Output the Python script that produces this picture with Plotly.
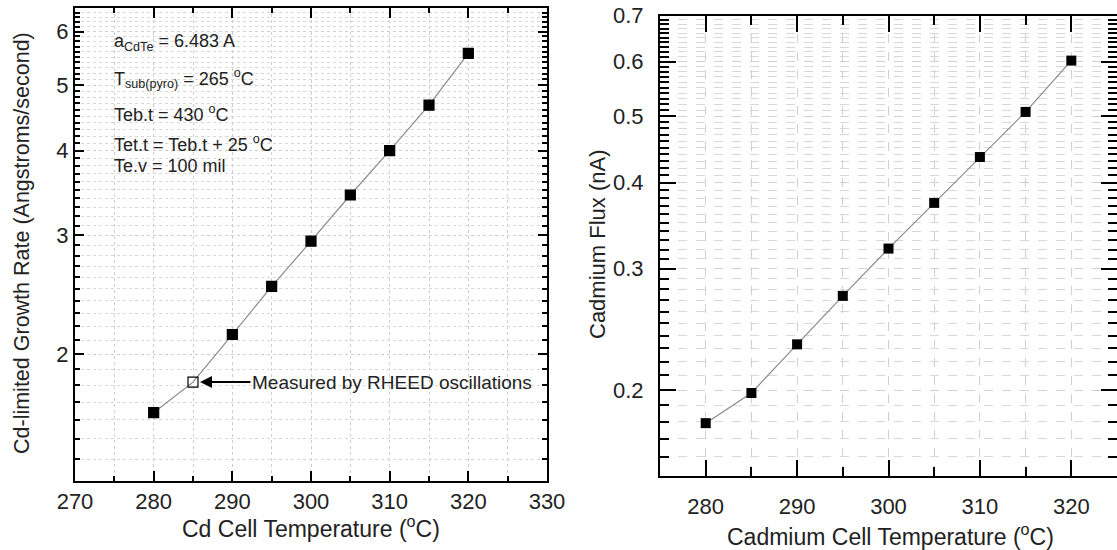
import plotly.graph_objects as go
import numpy as np

# ---- data ----
temp_left = [280, 285, 290, 295, 300, 305, 310, 315, 320]
rate_left = [1.64, 1.82, 2.14, 2.52, 2.94, 3.44, 4.00, 4.67, 5.57]
symbols_left = ["square", "square-open", "square", "square", "square", "square", "square", "square", "square"]

temp_right = [280, 285, 290, 295, 300, 305, 310, 315, 320]
flux_right = [0.179, 0.198, 0.233, 0.274, 0.321, 0.374, 0.436, 0.507, 0.602]

left_x_ticks = [270, 280, 290, 300, 310, 320, 330]
left_y_ticks = [2, 3, 4, 5, 6]
right_x_ticks = [280, 290, 300, 310, 320]
right_y_ticks = [0.2, 0.3, 0.4, 0.5, 0.6, 0.7]

info_lines = [
    "a<sub>CdTe</sub> = 6.483 A",
    "T<sub>sub(pyro)</sub> = 265 <sup>o</sup>C",
    "Teb.t = 430 <sup>o</sup>C",
    "Tet.t = Teb.t + 25 <sup>o</sup>C",
    "Te.v = 100 mil",
]

FONT = "Liberation Sans, Arial, sans-serif"
W, H = 1117, 550

left_minor_y = [round(v, 2) for v in np.arange(1.3, 6.51, 0.1) if all(abs(v - t) > 1e-6 for t in left_y_ticks)]
right_minor_y = [round(v, 3) for v in np.arange(0.15, 0.705, 0.01) if all(abs(v - t) > 1e-6 for t in right_y_ticks)]

fig = go.Figure()

fig.add_trace(go.Scatter(
    x=temp_left, y=rate_left, mode="lines+markers",
    line=dict(color="#8a8a8a", width=1.2),
    marker=dict(symbol=symbols_left, size=10, color="black", line=dict(width=1.2, color="black")),
    xaxis="x", yaxis="y", showlegend=False, cliponaxis=False,
))
fig.add_trace(go.Scatter(
    x=temp_right, y=flux_right, mode="lines+markers",
    line=dict(color="#8a8a8a", width=1.2),
    marker=dict(symbol="square", size=10, color="black"),
    xaxis="x2", yaxis="y2", showlegend=False, cliponaxis=False,
))

common_axis = dict(showline=True, linecolor="black", linewidth=2, mirror="ticks",
                   ticks="inside", tickcolor="black", zeroline=False,
                   tickfont=dict(family=FONT, size=22, color="#222"))

fig.update_layout(
    width=W, height=H,
    margin=dict(l=0, r=0, t=0, b=0, autoexpand=False),
    paper_bgcolor="white", plot_bgcolor="white",
    xaxis=dict(domain=[75 / W, 547 / W], anchor="y", range=[270, 330],
               tickvals=left_x_ticks, ticklen=10, tickwidth=2, ticklabelstandoff=0,
               showgrid=True, gridcolor="#cfcfcf", griddash="dot", gridwidth=1,
               minor=dict(dtick=5, tick0=275, ticks="inside", ticklen=5, tickwidth=2, tickcolor="black",
                          showgrid=True, gridcolor="#cfcfcf", griddash="dot"),
               **common_axis),
    yaxis=dict(domain=[1 - 481 / H, 1 - 8 / H], anchor="x", type="log",
               range=[np.log10(1.3), np.log10(6.5)],
               tickvals=left_y_ticks, ticktext=[str(v) for v in left_y_ticks],
               ticklen=9, tickwidth=2, ticklabelstandoff=0,
               showgrid=True, gridcolor="#cfcfcf", griddash="dot", gridwidth=1,
               minor=dict(tickvals=left_minor_y, ticks="inside", ticklen=5, tickwidth=2, tickcolor="black",
                          showgrid=True, gridcolor="#d8d8d8", griddash="dot"),
               **common_axis),
    xaxis2=dict(domain=[660 / W, 1.0], anchor="y2", range=[275, 325],
                tickvals=right_x_ticks, ticklen=16, tickwidth=2, ticklabelstandoff=10,
                showgrid=True, gridcolor="#d0d0d0", griddash="dash", gridwidth=1,
                minor=dict(dtick=5, tick0=275, ticks="inside", ticklen=9, tickwidth=2, tickcolor="black",
                           showgrid=True, gridcolor="#d0d0d0", griddash="dash"),
                **common_axis),
    yaxis2=dict(domain=[1 - 476 / H, 1 - 15.5 / H], anchor="x2", type="log",
                range=[np.log10(0.15), np.log10(0.7)],
                tickvals=right_y_ticks, ticktext=[str(v) for v in right_y_ticks],
                ticklen=16, tickwidth=2, ticklabelstandoff=10,
                showgrid=True, gridcolor="#d0d0d0", griddash="dash", gridwidth=1,
                minor=dict(tickvals=right_minor_y, ticks="inside", ticklen=9, tickwidth=2, tickcolor="black",
                           showgrid=True, gridcolor="#d8d8d8", griddash="dash"),
                **common_axis),
)

# axis titles
title_font = dict(family=FONT, size=23, color="#222")
for text, xx, yy in [("Cd Cell Temperature (<sup>o</sup>C)", 311, 527),
                     ("Cadmium Cell Temperature (<sup>o</sup>C)", 890, 535)]:
    fig.add_annotation(text=text, x=xx / W, y=1 - yy / H, xref="paper", yref="paper",
                       showarrow=False, font=title_font, xanchor="center", yanchor="middle")
fig.add_annotation(text="Cd-limited Growth Rate (Angstroms/second)", x=22 / W, y=1 - 243 / H,
                   xref="paper", yref="paper", textangle=-90, showarrow=False,
                   font=dict(family=FONT, size=21.5, color="#222"), xanchor="center", yanchor="middle")
fig.add_annotation(text="Cadmium Flux (nA)", x=597 / W, y=1 - 245 / H,
                   xref="paper", yref="paper", textangle=-90, showarrow=False,
                   font=dict(family=FONT, size=22, color="#222"), xanchor="center", yanchor="middle")

# info text block
info_y = [43, 78, 113, 143, 166]
for line, yy in zip(info_lines, info_y):
    fig.add_annotation(text=line, x=112 / W, y=1 - yy / H, xref="paper", yref="paper",
                       showarrow=False, xanchor="left", yanchor="middle",
                       font=dict(family=FONT, size=18, color="#222"))

# RHEED arrow annotation
fig.add_annotation(text="Measured by RHEED oscillations", x=temp_left[1], y=np.log10(rate_left[1]),
                   xref="x", yref="y", ax=292.3, ay=np.log10(rate_left[1]), axref="x", ayref="y",
                   showarrow=True, arrowhead=2, arrowsize=1.2, arrowwidth=2, arrowcolor="black",
                   standoff=7, xanchor="left", yanchor="middle",
                   font=dict(family=FONT, size=19, color="#222"))

fig.write_html("out.html", config={"displayModeBar": False},
               post_script="document.body.style.margin='0';document.body.style.overflow='hidden';")
